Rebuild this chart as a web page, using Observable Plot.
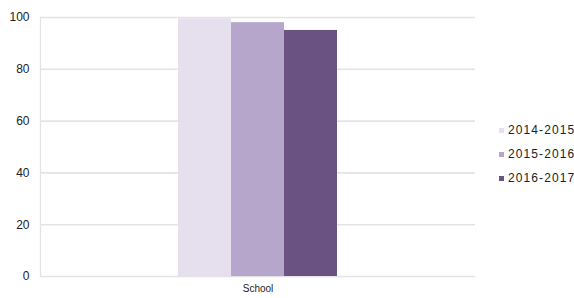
<!DOCTYPE html>
<html>
<head>
<meta charset="utf-8">
<script src="https://cdn.jsdelivr.net/npm/d3@7"></script>
<script src="https://cdn.jsdelivr.net/npm/@observablehq/plot@0.6"></script>
<style>
  html, body { margin: 0; padding: 0; background: #fff; }
  #wrap { position: relative; width: 574px; height: 298px; overflow: hidden; font-family: "Liberation Sans", Arial, sans-serif; }
  #legend { position: absolute; left: 499px; top: 118px; font-size: 12px; letter-spacing: 1.1px; color: #222; }
  .item { display: flex; align-items: center; height: 24px; white-space: nowrap; }
  .sw { width: 5px; height: 5px; margin-right: 4px; }
</style>
</head>
<body>
<div id="wrap"></div>
<script>
const category = "School";
const years = ["2014-2015", "2015-2016", "2016-2017"];
const values = [99.5, 98, 95];
const colors = ["#e6dfee", "#b6a6cc", "#6a5283"];
const yTicks = [0, 20, 40, 60, 80, 100];

const data = years.map((y, i) => ({year: y, value: values[i], category}));

const chart = Plot.plot({
  width: 574,
  height: 298,
  marginLeft: 40,
  marginRight: 99,
  marginTop: 17,
  marginBottom: 22,
  style: {fontFamily: "Liberation Sans, Arial, sans-serif", fontSize: "12px", color: "#222", background: "#fff"},
  x: {domain: years, paddingInner: 0, paddingOuter: 2.53, axis: null},
  y: {domain: [0, 100], axis: null},
  color: {domain: years, range: colors},
  marks: [
    Plot.ruleY(yTicks, {stroke: "#e3e3e3", strokeWidth: 1.6}),
    Plot.frame({anchor: "left", stroke: "#e3e3e3", strokeWidth: 1.2}),
    Plot.barY(data, {x: "year", y: "value", fill: "year", inset: 0}),
    Plot.axisY({ticks: yTicks, tickSize: 0, tickPadding: 11, label: null, fontSize: 12, fill: "#222", style: "letter-spacing: 1px"}),
    Plot.text([category], {text: d => d, frameAnchor: "bottom", dy: 15, fontSize: 10, fill: "#222"})
  ]
});
document.getElementById("wrap").appendChild(chart);

const legend = document.createElement("div");
legend.id = "legend";
years.forEach((y, i) => {
  const item = document.createElement("div");
  item.className = "item";
  const sw = document.createElement("span");
  sw.className = "sw";
  sw.style.background = colors[i];
  const t = document.createElement("span");
  t.textContent = y;
  item.appendChild(sw);
  item.appendChild(t);
  legend.appendChild(item);
});
document.getElementById("wrap").appendChild(legend);
</script>
</body>
</html>
